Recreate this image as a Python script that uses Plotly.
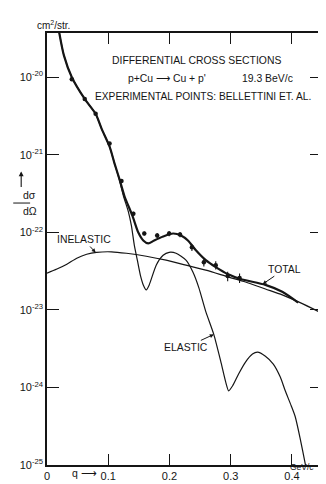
import numpy as np
import plotly.graph_objects as go

# momentum transfer q (GeV/c) and dsigma/dOmega (cm^2/str)
q_total = [0.0194, 0.0276, 0.0405, 0.0616, 0.0794, 0.0891, 0.1021, 0.1102, 0.1183, 0.1264,
           0.1394, 0.1491, 0.1572, 0.1653, 0.1750, 0.1896, 0.2058, 0.2188, 0.2301, 0.2431,
           0.2593, 0.2755, 0.2950, 0.3160, 0.3566, 0.3841, 0.4100]
sig_total = [3.98e-20, 1.91e-20, 1.0e-20, 5.24e-21, 3.37e-21, 2.17e-21, 1.28e-21, 7.76e-22, 4.85e-22, 2.94e-22,
             1.64e-22, 9.93e-23, 7.85e-23, 7.19e-23, 7.85e-23, 8.83e-23, 9.66e-23, 9.10e-23, 7.85e-23, 5.86e-23,
             4.37e-23, 3.56e-23, 2.90e-23, 2.50e-23, 2.10e-23, 1.71e-23, 1.24e-23]

q_inel = [0.0, 0.0162, 0.0324, 0.0486, 0.0648, 0.0810, 0.1053, 0.1297, 0.1621, 0.1945,
          0.2269, 0.2593, 0.2966, 0.3241, 0.3566, 0.3841, 0.4133, 0.4473]
sig_inel = [2.98e-23, 3.36e-23, 3.88e-23, 4.63e-23, 5.21e-23, 5.52e-23, 5.61e-23, 5.37e-23, 4.91e-23, 4.37e-23,
            3.77e-23, 3.26e-23, 2.65e-23, 2.29e-23, 1.86e-23, 1.56e-23, 1.24e-23, 9.20e-24]

q_el = [0.0194, 0.0276, 0.0405, 0.0616, 0.0794, 0.0891, 0.1021, 0.1102, 0.1183, 0.1248,
        0.1329, 0.1378, 0.1426, 0.1475, 0.1524, 0.1572, 0.1621, 0.1669, 0.1783, 0.1896,
        0.1994, 0.2107, 0.2269, 0.2382, 0.2480, 0.2593, 0.2723, 0.2836, 0.2917, 0.2966,
        0.3031, 0.3128, 0.3241, 0.3355, 0.3436, 0.3566, 0.3695, 0.3809, 0.3890, 0.3987,
        0.4052, 0.4133, 0.4214, 0.4230]
sig_el = [3.98e-20, 1.91e-20, 1.0e-20, 5.24e-21, 3.37e-21, 2.17e-21, 1.28e-21, 7.76e-22, 4.71e-22, 2.94e-22,
          1.84e-22, 1.22e-22, 6.79e-23, 4.37e-23, 2.81e-23, 2.10e-23, 1.81e-23, 2.10e-23, 3.77e-23, 5.06e-23,
          5.52e-23, 5.37e-23, 4.37e-23, 3.07e-23, 1.92e-23, 9.48e-24, 4.83e-24, 2.18e-24, 1.18e-24, 9.05e-25,
          1.05e-24, 1.49e-24, 2.12e-24, 2.69e-24, 2.85e-24, 2.53e-24, 2.00e-24, 1.36e-24, 9.05e-25, 5.82e-25,
          4.22e-25, 2.21e-25, 1.06e-25, 8.9e-26]

# experimental points (Bellettini et al.) and relative errors
q_exp = [0.0405, 0.0616, 0.0794, 0.1021, 0.1216, 0.1410, 0.1588, 0.1799, 0.1994, 0.2172,
         0.2366, 0.2561, 0.2755, 0.2950, 0.3144]
sig_exp = [9.42e-21, 5.24e-21, 3.37e-21, 1.40e-21, 4.58e-22, 1.74e-22, 9.66e-23, 9.10e-23, 9.66e-23, 9.38e-23,
           6.40e-23, 4.12e-23, 3.77e-23, 2.73e-23, 2.58e-23]
rel_err = [0.03, 0.03, 0.03, 0.04, 0.05, 0.06, 0.06, 0.08, 0.08, 0.08, 0.10, 0.12, 0.12, 0.14, 0.14]

x_ticks = [0, 0.1, 0.2, 0.3, 0.4]
x_labels = ['0', '0.1', '0.2', '0.3', '0.4']
y_ticks = [1e-25, 1e-24, 1e-23, 1e-22, 1e-21, 1e-20]
y_labels = ['10<sup>-25</sup>', '10<sup>-24</sup>', '10<sup>-23</sup>', '10<sup>-22</sup>',
            '10<sup>-21</sup>', '10<sup>-20</sup>']

ink = '#151515'
FONT = 'Liberation Sans'

fig = go.Figure()
fig.add_trace(go.Scatter(x=q_inel, y=sig_inel, mode='lines',
                         line=dict(color=ink, width=1.2, shape='spline', smoothing=0.7)))
fig.add_trace(go.Scatter(x=q_el, y=sig_el, mode='lines',
                         line=dict(color=ink, width=1.2, shape='spline', smoothing=0.6)))
fig.add_trace(go.Scatter(x=q_total, y=sig_total, mode='lines',
                         line=dict(color=ink, width=2.2, shape='spline', smoothing=0.7)))

err_up = [s * e for s, e in zip(sig_exp, rel_err)]
fig.add_trace(go.Scatter(
    x=q_exp, y=sig_exp, mode='markers',
    marker=dict(color=ink, size=4.5),
    error_y=dict(type='data', symmetric=False, array=err_up, arrayminus=err_up,
                 width=0, thickness=1.1, color=ink)
))


def px_to_paper(px, py):
    return (px - 39) / 277, (462 - py) / 437


def text(px, py, s, size=10.4, **kw):
    x, y = px_to_paper(px, py)
    fig.add_annotation(x=x, y=y, xref='paper', yref='paper', text=s, showarrow=False,
                       font=dict(family=FONT, size=size, color=ink), **kw)


text(190, 45, 'DIFFERENTIAL CROSS SECTIONS')
text(119, 63, "p+Cu ⟶ Cu + p'", xanchor='left')
text(233, 63, '19.3 BeV/c', xanchor='left')
text(196, 82, 'EXPERIMENTAL POINTS: BELLETTINI ET. AL.', 10.2)
text(310, 471, 'GeV/c', 8.5)
text(62, 478, 'q ⟶', 10.5)
text(27, 9, 'cm<sup>2</sup>/str.', 10)
text(13, 189, 'dσ', 10.5)
text(13, 205, 'dΩ', 10.5)
fig.add_shape(type='line', xref='paper', yref='paper',
              x0=px_to_paper(5, 0)[0], x1=px_to_paper(22, 0)[0],
              y0=px_to_paper(0, 197)[1], y1=px_to_paper(0, 197)[1],
              line=dict(color=ink, width=1))
# upward arrow above dsigma/dOmega
ax0, ay0 = px_to_paper(13, 165)
fig.add_annotation(x=ax0, y=ay0, xref='paper', yref='paper', text='', showarrow=True,
                   ax=0, ay=17, arrowhead=2, arrowsize=0.9, arrowwidth=1.1, arrowcolor=ink)


def label(qx, qs, sig, s, ax, ay):
    yv = np.log10(np.interp(qx, qs, sig))
    fig.add_annotation(x=qx, y=yv, text=s, showarrow=True, ax=ax, ay=ay,
                       arrowhead=2, arrowsize=0.8, arrowwidth=1, arrowcolor=ink,
                       font=dict(family=FONT, size=10.4, color=ink))


label(0.0794, q_inel, sig_inel, 'INELASTIC', -12, -13)
label(0.352, q_total, sig_total, 'TOTAL', 22, -15)
label(0.2723, q_el, sig_el, 'ELASTIC', -28, 13)

axis_common = dict(showline=True, linewidth=1.5, linecolor=ink, mirror='ticks',
                   ticks='inside', tickcolor=ink, tickwidth=1.3, showgrid=False, zeroline=False,
                   tickfont=dict(family=FONT, size=11, color=ink))

fig.update_layout(
    width=326, height=484,
    margin=dict(l=39, r=10, t=25, b=22),
    paper_bgcolor='white', plot_bgcolor='white',
    showlegend=False,
    xaxis=dict(range=[0, 0.449], tickvals=x_ticks, ticktext=x_labels, ticklen=11, **axis_common),
    yaxis=dict(type='log', range=[-25, -19.43], tickvals=y_ticks, ticktext=y_labels,
               ticklen=12, **axis_common),
)

fig.write_html('out.html')
